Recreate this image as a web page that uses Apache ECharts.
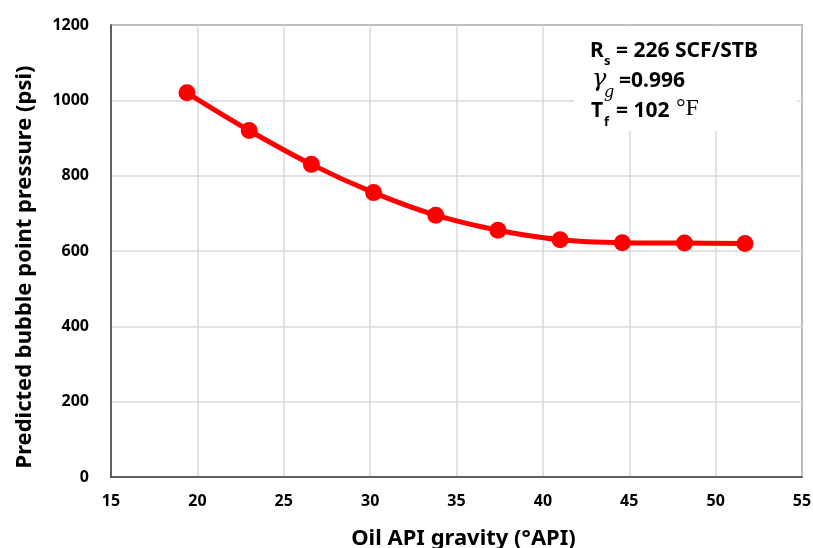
<!DOCTYPE html>
<html>
<head>
<meta charset="utf-8">
<script src="https://cdn.jsdelivr.net/npm/echarts@6/dist/echarts.min.js"></script>
<style>
html,body{margin:0;padding:0;background:#fff;}
#chart{width:813px;height:548px;}
</style>
</head>
<body>
<div id="chart"></div>
<script>
const apiGravity = [19.4, 23.0, 26.6, 30.2, 33.8, 37.4, 41.0, 44.6, 48.2, 51.7];
const bubblePressure = [1020, 920, 830, 755, 695, 655, 630, 622, 621, 620];
const xAxisTitle = 'Oil API gravity (°API)';
const yAxisTitle = 'Predicted bubble point pressure (psi)';

const chart = echarts.init(document.getElementById('chart'));
const F = '"Noto Sans", "Open Sans", sans-serif';
chart.setOption({
  animation: false,
  backgroundColor: '#ffffff',
  grid: {left: 111, top: 25, right: 11, bottom: 71, show: true, borderColor: '#404040', borderWidth: 1.5,
         outerBoundsMode: 'none', containLabel: false},
  xAxis: {
    type: 'value', min: 15, max: 55, interval: 5,
    name: xAxisTitle, nameLocation: 'middle', nameGap: 51,
    nameTextStyle: {fontFamily: F, fontWeight: 'bold', fontSize: 22, color: '#000', padding: [0,0,0,14]},
    axisLine: {show: true, lineStyle: {color: '#404040', width: 1.5}},
    axisTick: {show: false},
    axisLabel: {fontFamily: F, fontWeight: 'bold', fontSize: 16, color: '#000', margin: 16},
    splitLine: {show: true, lineStyle: {color: '#d9d9d9', width: 1.5}}
  },
  yAxis: {
    type: 'value', min: 0, max: 1200, interval: 200,
    name: yAxisTitle, nameLocation: 'middle', nameGap: 75,
    nameTextStyle: {fontFamily: F, fontWeight: 'bold', fontSize: 22, color: '#000', padding: [0,32,0,0]},
    axisLine: {show: true, lineStyle: {color: '#404040', width: 1.5}},
    axisTick: {show: false},
    axisLabel: {fontFamily: F, fontWeight: 'bold', fontSize: 16, color: '#000', margin: 22, formatter: v => String(v)},
    splitLine: {show: true, lineStyle: {color: '#d9d9d9', width: 1.5}}
  },
  series: [{
    type: 'line',
    data: apiGravity.map((x, i) => [x, bubblePressure[i]]),
    smooth: 0.35,
    symbol: 'circle', symbolSize: 17,
    lineStyle: {color: '#ff0000', width: 5},
    itemStyle: {color: '#ff0000'},
    z: 5
  }],
  graphic: [
    {type: 'rect', shape: {x: 574, y: 27, width: 223, height: 104}, style: {fill: '#ffffff'}, z: 10},
    {type: 'text', x: 590, y: 62, style: {text: 'R', font: 'bold 21px ' + F, fill: '#000', textVerticalAlign: 'bottom'}, z: 11},
    {type: 'text', x: 604, y: 68, style: {text: 's', font: 'bold 13px ' + F, fill: '#000', textVerticalAlign: 'bottom'}, z: 11},
    {type: 'text', x: 616, y: 62, style: {text: '= 226 SCF/STB', font: 'bold 21px ' + F, fill: '#000', textVerticalAlign: 'bottom'}, z: 11},
    {type: 'text', x: 592, y: 92, style: {text: 'γ', font: 'italic 24px "DejaVu Serif", serif', fill: '#000', textVerticalAlign: 'bottom'}, z: 11},
    {type: 'text', x: 604, y: 101, style: {text: 'g', font: 'italic 16px "DejaVu Serif", serif', fill: '#000', textVerticalAlign: 'bottom'}, z: 11},
    {type: 'text', x: 619, y: 92, style: {text: '=0.996', font: 'bold 21px ' + F, fill: '#000', textVerticalAlign: 'bottom'}, z: 11},
    {type: 'text', x: 591, y: 122, style: {text: 'T', font: 'bold 21px ' + F, fill: '#000', textVerticalAlign: 'bottom'}, z: 11},
    {type: 'text', x: 604, y: 129, style: {text: 'f', font: 'bold 13px ' + F, fill: '#000', textVerticalAlign: 'bottom'}, z: 11},
    {type: 'text', x: 616, y: 122, style: {text: '= 102', font: 'bold 21px ' + F, fill: '#000', textVerticalAlign: 'bottom'}, z: 11},
    {type: 'text', x: 676, y: 121, style: {text: '°F', font: '24px "Liberation Serif", serif', fill: '#000', textVerticalAlign: 'bottom'}, z: 11}
  ]
});
</script>
</body>
</html>
